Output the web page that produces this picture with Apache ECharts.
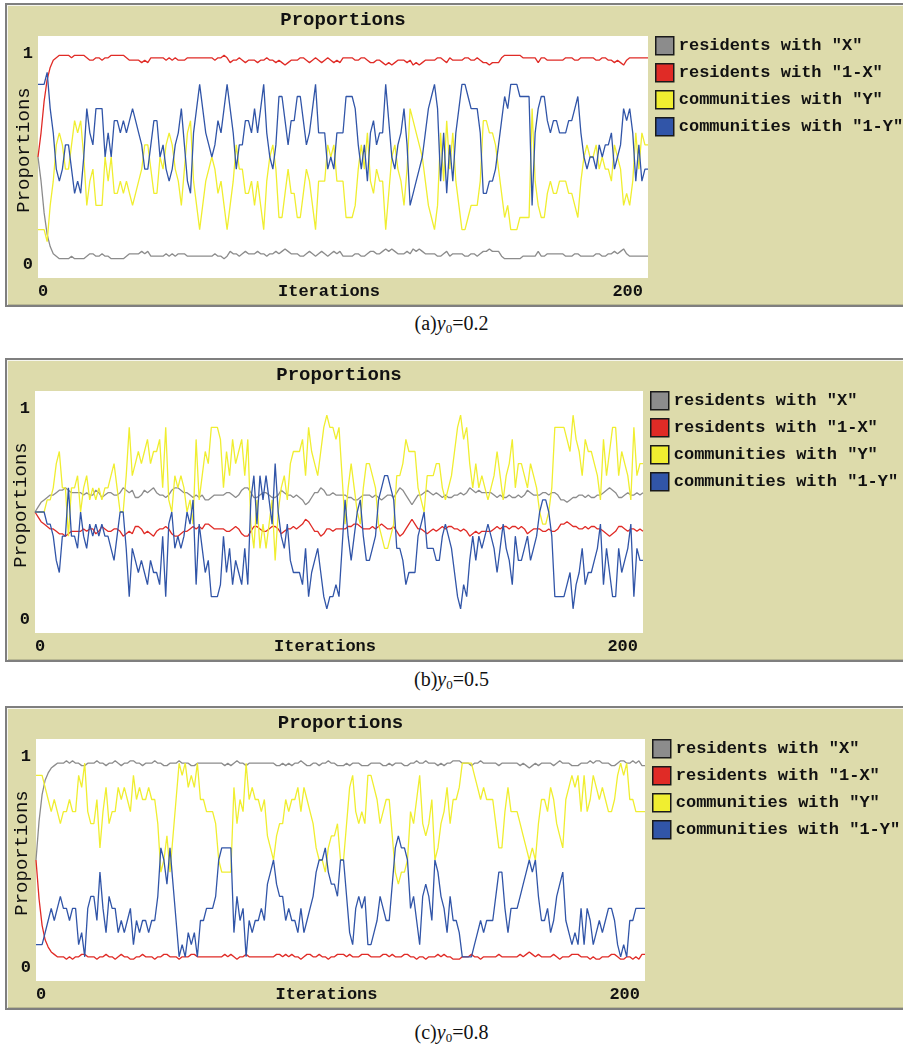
<!DOCTYPE html>
<html>
<head>
<meta charset="utf-8">
<title>Proportions</title>
<script src="https://cdn.jsdelivr.net/npm/echarts@6/dist/echarts.min.js"></script>
<style>
html, body { margin: 0; padding: 0; width: 903px; height: 1049px; overflow: hidden; background: #ffffff; }
.box {
  position: absolute; left: 5px; width: 904px; height: 300px;
  background: #dddbab; border: 2px solid #7f7f7f; border-right: none;
  box-shadow: inset 1px 1px 0 #f6f6ee, inset 0 -1px 0 #b9b892;
}
.chart { position: absolute; left: 0; width: 903px; height: 310px; }
.cap {
  position: absolute; left: 0; width: 903px; text-align: center;
  font-family: "Liberation Serif", "DejaVu Serif", serif; font-size: 20px; line-height: 24px; color: #111;
}
.cap sub { font-size: 13px; vertical-align: -3px; line-height: 0; }
</style>
</head>
<body>
<div class="box" style="top:3px"></div>
<div class="box" style="top:358px"></div>
<div class="box" style="top:706px"></div>
<div id="chartA" class="chart" style="top:0px"></div>
<div id="chartB" class="chart" style="top:355px"></div>
<div id="chartC" class="chart" style="top:703px"></div>
<div class="cap" style="top:311px">(a)<i>y</i><sub>0</sub>=0.2</div>
<div class="cap" style="top:667px">(b)<i>y</i><sub>0</sub>=0.5</div>
<div class="cap" style="top:1020px">(c)<i>y</i><sub>0</sub>=0.8</div>

<script>
// values are proportions in percent, one per iteration 0..200
const seriesNames = ['residents with "X"', 'residents with "1-X"', 'communities with "Y"', 'communities with "1-Y"'];
const xTicks = [0, 200];
const yTicks = [0, 100];
const yTickLabels = ['0', '1'];

// (a) y0 = 0.2
const residentsX_a = [
  50,40,27,18,13,10,9,8,8,8, 8,9,8,8,8,8,9,10,10,9, 9,10,9,9,8,8,8,8,8,9,
  10,10,10,10,11,10,11,9,9,9, 9,9,10,9,10,9,10,10,10,9, 9,9,9,9,9,9,9,9,10,9,
  9,8,9,11,10,10,9,10,11,10, 10,10,11,10,10,9,10,10,11,10, 11,12,11,10,10,10,9,9,10,11,
  10,9,10,11,10,9,10,11,10,11, 9,9,9,9,10,10,9,9,10,11, 11,10,10,11,12,11,12,11,10,10,
  10,11,10,12,11,12,11,10,10,10, 10,9,9,10,11,9,10,10,10,10, 9,9,10,10,9,10,11,11,12,11,
  11,11,9,8,8,8,8,8,8,9, 9,9,9,9,11,9,9,10,10,10, 10,10,10,9,9,9,10,10,9,9,
  9,9,9,10,10,9,9,10,10,11, 10,11,12,10,9,9,9,9,9,9, 9
];
const communities1Y_a = [
  80,80,80,85,70,60,45,40,45,55, 55,45,35,40,35,50,70,60,55,70, 70,70,50,60,50,65,65,60,65,60,
  65,70,65,60,55,45,45,55,65,65, 50,55,45,40,45,55,60,70,55,40, 35,60,70,80,70,60,55,50,55,65,
  60,70,80,70,60,45,55,55,65,65, 60,70,60,70,80,60,50,45,55,75, 75,65,55,65,65,75,75,65,55,60,
  70,80,60,60,60,45,50,45,60,60, 60,75,75,75,70,55,45,55,40,60, 65,55,60,60,80,65,50,45,55,60,
  70,55,30,35,40,45,50,60,70,75, 80,70,40,60,35,55,40,60,70,80, 80,75,70,70,70,60,35,35,40,40,
  45,55,65,75,70,80,80,80,75,75, 75,75,30,60,70,75,75,65,60,65, 65,60,60,60,65,65,70,75,60,50,
  45,50,50,45,55,50,55,55,60,45, 50,55,70,65,70,60,40,55,40,45, 45
];

// (b) y0 = 0.5
const residentsX_b = [
  50,52,54,55,56,57,57,58,59,59, 60,59,58,58,58,58,57,58,57,57, 59,58,56,57,58,58,57,57,58,60,
  59,58,59,56,56,57,59,58,59,60, 58,57,57,56,57,59,60,60,59,58, 58,57,56,57,56,57,55,55,56,57,
  57,57,57,58,58,57,56,57,59,60, 60,58,56,56,57,58,58,57,56,56, 57,59,58,57,57,56,57,56,55,53,
  54,56,58,58,60,59,57,57,58,57, 57,57,57,56,56,55,55,56,57,57, 57,56,57,56,55,56,57,57,56,58,
  60,59,57,55,53,55,57,57,58,59, 58,57,58,57,56,57,56,56,57,57, 58,57,58,60,59,58,59,58,58,58,
  58,57,56,57,56,56,57,56,56,57, 56,57,59,58,57,57,57,58,58,57, 58,58,57,55,55,54,55,56,56,57,
  57,56,57,56,56,57,57,58,59,60, 59,58,56,56,57,58,57,57,58,57, 58
];
const communities1Y_b = [
  50,50,50,50,45,45,40,30,25,40, 40,60,40,40,35,50,40,35,45,40, 45,40,45,40,40,35,30,40,50,50,
  35,15,35,30,25,30,25,20,30,25, 25,20,40,15,45,50,35,40,35,40, 50,45,55,20,45,35,25,30,15,15,
  15,20,40,25,35,20,30,25,20,35, 20,55,65,45,65,55,65,55,45,70, 50,40,35,45,30,25,25,25,20,35,
  15,25,30,35,25,15,10,15,15,20, 15,35,55,40,30,40,50,55,40,30, 30,35,40,55,60,65,65,60,55,35,
  35,30,20,25,25,25,40,45,50,35, 35,35,30,30,40,45,40,35,25,15, 10,20,15,30,40,30,40,35,40,45,
  40,35,25,35,45,35,30,20,40,30, 30,35,40,30,35,40,50,55,55,50, 40,15,15,15,15,20,25,10,20,25,
  35,20,25,25,30,35,45,20,35,25, 15,15,35,25,30,35,45,15,35,30, 30
];

// (c) y0 = 0.8
const residentsX_c = [
  50,66,77,83,86,88,89,90,90,90, 91,90,91,90,90,89,89,90,90,90, 91,90,90,89,90,90,91,90,89,90,
  90,91,91,90,90,89,90,90,90,91, 90,90,89,89,90,90,90,91,90,90, 90,89,89,90,90,90,90,90,90,90,
  90,90,89,90,89,90,91,90,90,89, 90,90,90,90,90,90,90,90,90,89, 89,90,89,90,89,90,90,91,90,89,
  89,90,90,89,90,90,91,90,90,89, 89,89,90,89,90,90,90,89,89,89, 90,90,90,90,89,89,90,89,90,90,
  90,89,89,90,90,91,90,90,91,90, 90,90,89,90,89,90,90,91,91,91, 90,90,90,89,90,90,91,90,90,90,
  90,90,89,90,90,90,90,90,90,89, 90,89,88,89,90,89,90,90,90,90, 89,90,91,90,90,90,89,89,89,90,
  90,90,91,90,91,91,90,90,90,89, 89,90,91,91,90,90,91,90,91,89, 89
];
const communities1Y_c = [
  15,15,15,20,25,30,25,30,35,30, 30,25,30,30,15,20,10,30,35,35, 25,45,30,20,35,30,30,20,25,20,
  25,30,15,25,20,25,25,20,25,25, 35,55,50,40,55,40,25,10,15,10, 20,15,20,10,25,25,30,30,30,35,
  50,55,55,55,55,20,35,25,30,10, 25,20,25,25,30,25,40,45,50,40, 35,35,25,30,25,25,20,30,20,25,
  30,35,45,50,50,55,45,40,40,35, 50,50,35,20,15,30,35,30,35,15, 15,20,25,35,30,25,25,40,55,60,
  55,55,50,30,35,25,15,35,40,35, 25,50,45,35,30,20,35,25,25,20, 10,10,10,10,15,20,25,20,25,25,
  25,35,45,45,30,20,30,30,30,35, 40,45,50,45,50,35,25,25,30,20, 25,35,40,45,25,20,15,20,15,30,
  15,30,25,15,20,25,20,25,30,30, 25,15,10,15,10,25,25,30,30,30, 30
];

const lineColors = ['#8c8c8c', '#e02b26', '#f0ee30', '#3155a8'];
const monoFont = '"Liberation Mono", "DejaVu Sans Mono", monospace';

function buildOption(panel) {
  // the "1-" series are the complements of the recorded proportions
  const x = panel.x;
  const oneMinusX = x.map(v => 100 - v);
  const oneMinusY = panel.oneMinusY;
  const y = oneMinusY.map(v => 100 - v);
  const toPairs = arr => arr.map((v, i) => [i, v]);
  const lists = [x, oneMinusX, y, oneMinusY];

  return {
    animation: false,
    title: {
      text: 'Proportions',
      left: panel.left + panel.width / 2,
      top: 11,
      padding: 0,
      textAlign: 'center',
      textStyle: { fontFamily: monoFont, fontSize: 19, fontWeight: 'bold', color: '#111' }
    },
    legend: {
      orient: 'vertical',
      left: panel.left + panel.width + 7,
      top: 36,
      padding: 0,
      itemWidth: 18,
      itemHeight: 18,
      itemGap: 7.5,
      icon: 'rect',
      selectedMode: false,
      itemStyle: { borderColor: '#1a1a1a', borderWidth: 1.5 },
      textStyle: { fontFamily: monoFont, fontSize: 17, fontWeight: 'bold', color: '#111' },
      data: seriesNames
    },
    grid: {
      left: panel.left, top: 36, width: panel.width, height: 242,
      outerBoundsMode: 'none',
      show: true, backgroundColor: '#ffffff', borderWidth: 0
    },
    xAxis: {
      type: 'value', min: 0, max: 200,
      axisLine: { show: false }, axisTick: { show: false }, splitLine: { show: false },
      axisLabel: {
        customValues: xTicks, margin: 5, padding: [0, 5, 0, 0],
        alignMinLabel: 'left', alignMaxLabel: 'right',
        fontFamily: monoFont, fontSize: 17, fontWeight: 'bold', color: '#111'
      },
      name: 'Iterations', nameLocation: 'middle', nameGap: 5,
      nameMoveOverlap: false,
      nameTextStyle: {
        fontFamily: monoFont, fontSize: 17, fontWeight: 'bold', color: '#111',
        verticalAlign: 'top', padding: [0, 28, 0, 0]
      }
    },
    yAxis: [
      {
        type: 'value', min: 0, max: 100,
        axisLine: { show: false }, axisTick: { show: false },
        splitLine: { show: false }, axisLabel: { show: false },
        name: 'Proportions', nameLocation: 'middle', nameGap: 5,
        nameMoveOverlap: false,
        nameTextStyle: {
          fontFamily: monoFont, fontSize: 19, color: '#111', padding: [0, 0, 0, 14]
        }
      },
      {
        // label-only axis, the tick labels sit slightly inside the plot edges
        type: 'value', min: -6.16, max: 108.53, position: 'left',
        axisLine: { show: false }, axisTick: { show: false }, splitLine: { show: false },
        axisLabel: {
          customValues: yTicks, margin: 5,
          formatter: v => yTickLabels[yTicks.indexOf(v)],
          fontFamily: monoFont, fontSize: 17, fontWeight: 'bold', color: '#111'
        }
      }
    ],
    series: lists.map((arr, k) => ({
      name: seriesNames[k],
      type: 'line',
      xAxisIndex: 0,
      yAxisIndex: 0,
      data: toPairs(arr),
      showSymbol: false,
      silent: true,
      color: lineColors[k],
      lineStyle: { width: 1.3, color: lineColors[k] },
      emphasis: { disabled: true }
    }))
  };
}

const panels = [
  { id: 'chartA', left: 38, width: 610, x: residentsX_a, oneMinusY: communities1Y_a },
  { id: 'chartB', left: 35, width: 608, x: residentsX_b, oneMinusY: communities1Y_b },
  { id: 'chartC', left: 36, width: 609, x: residentsX_c, oneMinusY: communities1Y_c }
];

panels.forEach(p => {
  const chart = echarts.init(document.getElementById(p.id));
  chart.setOption(buildOption(p));
});
</script>
</body>
</html>
